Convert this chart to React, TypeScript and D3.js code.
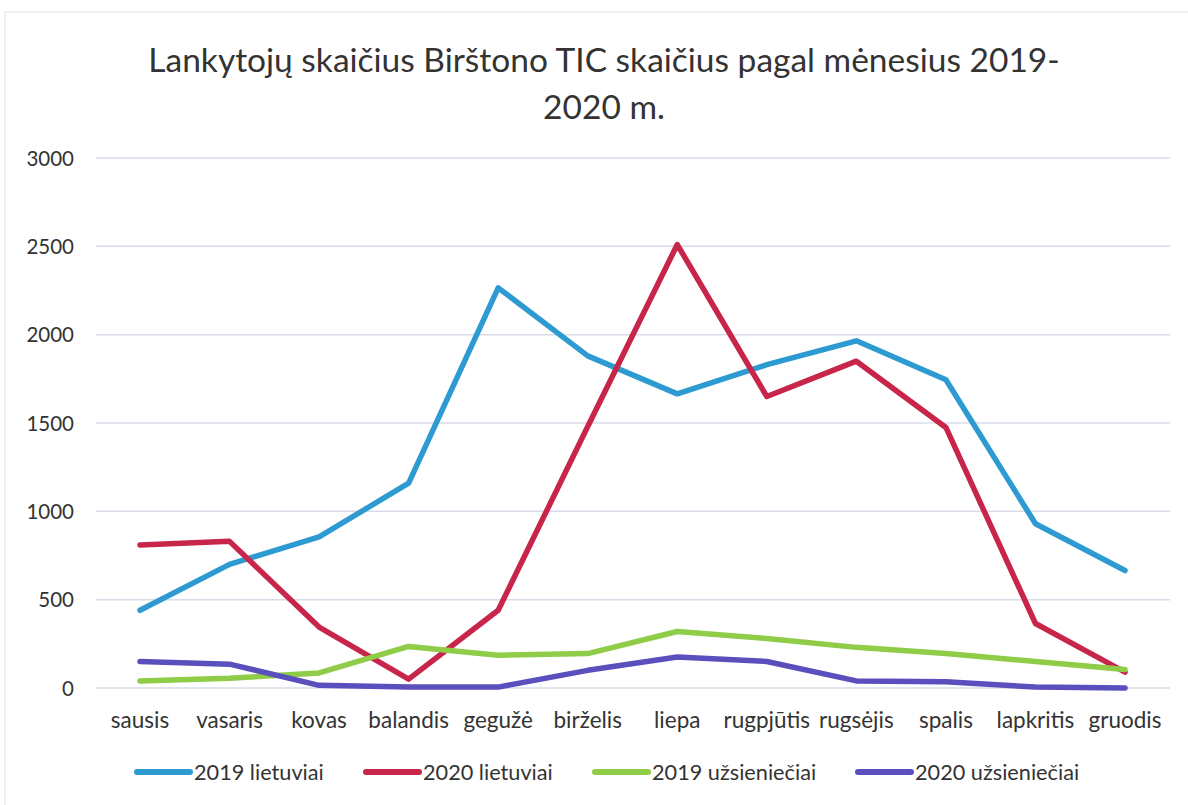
import React, { useEffect, useRef } from "react";
import * as d3 from "d3";

const months = [
  "sausis", "vasaris", "kovas", "balandis", "gegužė", "birželis",
  "liepa", "rugpjūtis", "rugsėjis", "spalis", "lapkritis", "gruodis",
];
const lt2019 = [440, 700, 855, 1160, 2265, 1880, 1665, 1830, 1965, 1745, 930, 665];
const lt2020 = [810, 830, 345, 50, 440, 1480, 2510, 1650, 1850, 1475, 365, 90];
const foreign2019 = [40, 55, 85, 235, 185, 195, 320, 280, 230, 195, 150, 105];
const foreign2020 = [150, 135, 15, 5, 5, 100, 175, 150, 40, 35, 5, 0];
const yTicks = [0, 500, 1000, 1500, 2000, 2500, 3000];

const seriesNames = ["2019 lietuviai", "2020 lietuviai", "2019 užsieniečiai", "2020 užsieniečiai"];
const seriesColors = ["#2d9bd2", "#c8254b", "#8fcc48", "#5a4fbd"];
const seriesValues = [lt2019, lt2020, foreign2019, foreign2020];

const W = 1188;
const H = 805;
const font = "Lato, 'Open Sans', sans-serif";

export default function App() {
  const ref = useRef<SVGSVGElement>(null);

  useEffect(() => {
    const svg = d3.select(ref.current);
    svg.selectAll("*").remove();

    const x = d3.scalePoint().domain(months).range([140, 1125]);
    const y = d3.scaleLinear().domain([0, 3000]).range([688, 158]);

    // faint frame of the scanned chart
    svg
      .append("rect")
      .attr("x", 5)
      .attr("y", 12)
      .attr("width", 1190)
      .attr("height", 800)
      .attr("fill", "none")
      .attr("stroke", "#ececf0")
      .attr("stroke-width", 1.5);

    // title
    const title = svg
      .append("text")
      .attr("text-anchor", "middle")
      .attr("font-family", font)
      .attr("font-size", 33.5)
      .attr("fill", "#333");
    title.append("tspan").attr("x", 604).attr("y", 72).text("Lankytojų skaičius Birštono TIC skaičius pagal mėnesius 2019-");
    title.append("tspan").attr("x", 604).attr("y", 119).text("2020 m.");

    // grid + y labels
    svg
      .append("g")
      .selectAll("line")
      .data(yTicks)
      .join("line")
      .attr("x1", 96)
      .attr("x2", 1170)
      .attr("y1", (d) => y(d))
      .attr("y2", (d) => y(d))
      .attr("stroke", "#d8dbe8")
      .attr("stroke-width", 1.5);

    svg
      .append("g")
      .selectAll("text")
      .data(yTicks)
      .join("text")
      .attr("x", 74)
      .attr("y", (d) => y(d) + 7.5)
      .attr("text-anchor", "end")
      .attr("font-family", font)
      .attr("font-size", 20.5)
      .attr("fill", "#333")
      .text((d) => d);

    // x labels
    svg
      .append("g")
      .selectAll("text")
      .data(months)
      .join("text")
      .attr("x", (d) => x(d)!)
      .attr("y", 728)
      .attr("text-anchor", "middle")
      .attr("font-family", font)
      .attr("font-size", 22.5)
      .attr("fill", "#333")
      .text((d) => d);

    // lines
    const line = d3
      .line<number>()
      .x((_, i) => x(months[i])!)
      .y((d) => y(d));

    svg
      .append("g")
      .selectAll("path")
      .data(seriesValues)
      .join("path")
      .attr("d", (d) => line(d))
      .attr("fill", "none")
      .attr("stroke", (_, i) => seriesColors[i])
      .attr("stroke-width", 5.5)
      .attr("stroke-linejoin", "round")
      .attr("stroke-linecap", "round");

    // legend
    const legendX = [135, 364, 593, 856];
    const lg = svg
      .append("g")
      .selectAll("g")
      .data(seriesNames)
      .join("g")
      .attr("transform", (_, i) => `translate(${legendX[i]},772)`);
    lg.append("line")
      .attr("x1", 2)
      .attr("x2", 55)
      .attr("stroke", (_, i) => seriesColors[i])
      .attr("stroke-width", 6)
      .attr("stroke-linecap", "round");
    lg.append("text")
      .attr("x", 59)
      .attr("y", 8)
      .attr("font-family", font)
      .attr("font-size", 21.7)
      .attr("fill", "#333")
      .text((d) => d);
  }, []);

  return (
    <svg
      ref={ref}
      width={W}
      height={H}
      style={{ position: "absolute", top: 0, left: 0, background: "#fff" }}
    />
  );
}
